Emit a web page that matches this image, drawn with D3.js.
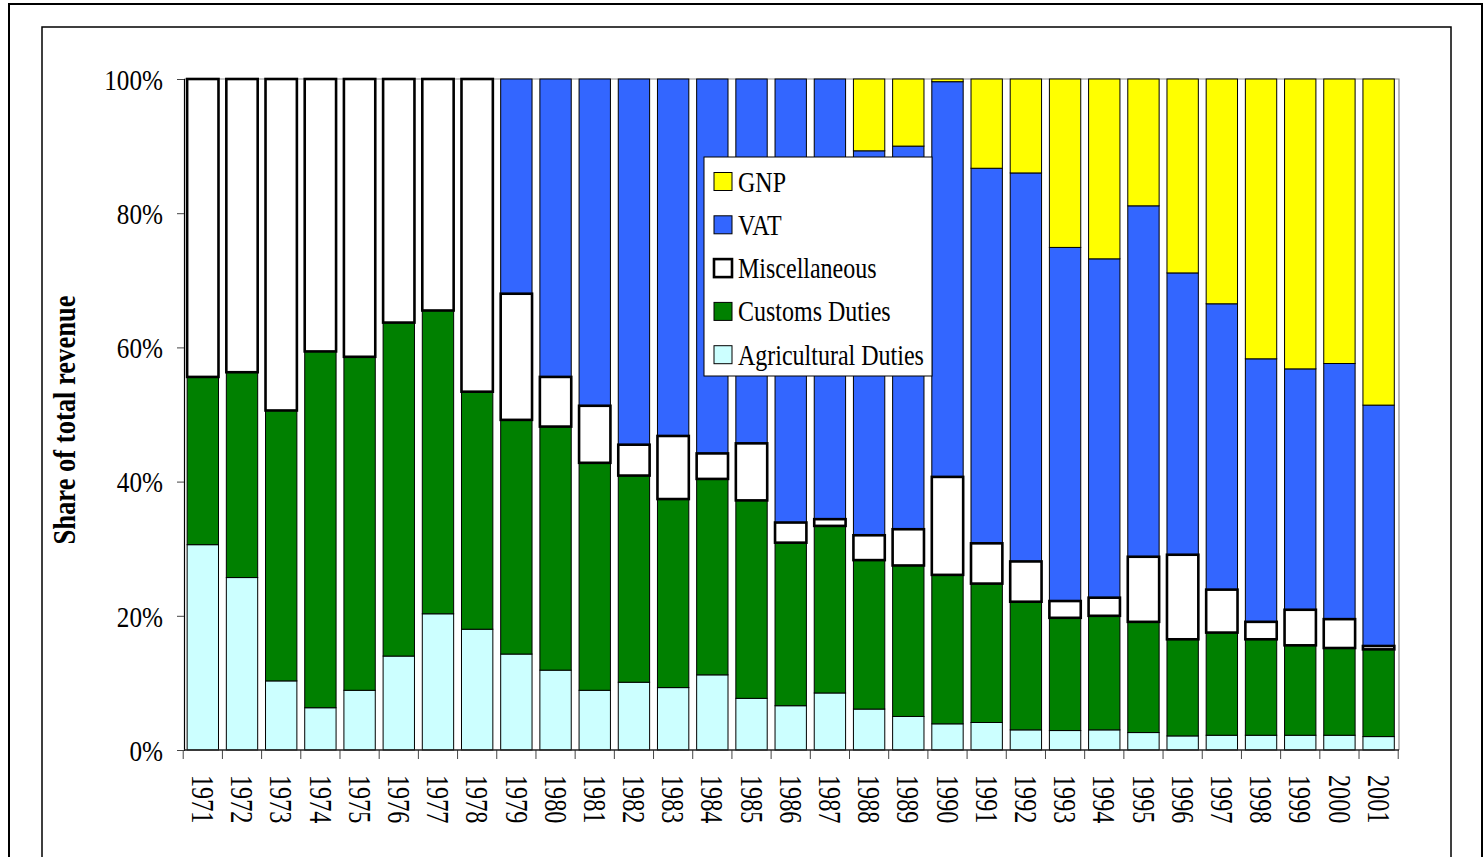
<!DOCTYPE html>
<html>
<head>
<meta charset="utf-8">
<script src="https://cdn.jsdelivr.net/npm/d3@7"></script>
<style>
  body { margin: 0; background: #fff; }
  svg text { font-family: "Liberation Serif", "Times New Roman", serif !important; fill: #000; }
</style>
</head>
<body>
<svg id="chart" width="1483" height="857"></svg>
<script>
// EU own resources: share of total revenue by source, 1971-2001 (%)
const years = ["1971","1972","1973","1974","1975","1976","1977","1978","1979","1980",
  "1981","1982","1983","1984","1985","1986","1987","1988","1989","1990",
  "1991","1992","1993","1994","1995","1996","1997","1998","1999","2000","2001"];

const agricultural = [30.6,25.7,10.3,6.3,8.9,14.0,20.3,18.0,14.3,11.9,
  8.9,10.1,9.3,11.2,7.7,6.6,8.5,6.1,5.0,3.9,
  4.1,3.0,2.9,3.0,2.6,2.1,2.2,2.2,2.2,2.2,2.0];

const customs = [25.0,30.6,40.3,53.1,49.7,49.7,45.2,35.4,34.9,36.3,
  33.9,30.8,28.1,29.2,29.5,24.3,24.9,22.2,22.5,22.2,
  20.7,19.1,16.8,17.0,16.5,14.4,15.3,14.3,13.4,13.0,13.0];

const miscellaneous = [44.4,43.7,49.4,40.6,41.4,36.3,34.5,46.6,18.8,7.4,
  8.5,4.6,9.4,3.8,8.5,3.0,1.0,3.7,5.4,14.6,
  6.0,6.0,2.5,2.7,9.7,12.6,6.4,2.6,5.3,4.3,0.5];

const vat = [0,0,0,0,0,0,0,0,32.0,44.4,
  48.7,54.5,53.2,55.8,54.3,66.1,65.6,57.3,57.1,58.9,
  55.9,57.9,52.7,50.5,52.3,42.0,42.6,39.2,35.9,38.1,35.9];

const gnp = [0,0,0,0,0,0,0,0,0,0,
  0,0,0,0,0,0,0,10.7,10.0,0.4,
  13.3,14.0,25.1,26.8,18.9,28.9,33.5,41.7,43.2,42.4,48.6];

const yTickValues = [0, 20, 40, 60, 80, 100];
const seriesKeys = ["agricultural", "customs", "miscellaneous", "vat", "gnp"];
const seriesLabels = ["Agricultural Duties", "Customs Duties", "Miscellaneous", "VAT", "GNP"];
const seriesFill = ["#CCFFFF", "#008000", "#FFFFFF", "#3366FF", "#FFFF00"];

const rows = years.map((y, i) => ({
  year: y,
  agricultural: agricultural[i],
  customs: customs[i],
  miscellaneous: miscellaneous[i],
  vat: vat[i],
  gnp: gnp[i]
}));

const svg = d3.select("#chart");

// frames
svg.append("rect").attr("x", 9).attr("y", 4).attr("width", 1473).attr("height", 900)
  .attr("fill", "none").attr("stroke", "#000").attr("stroke-width", 2);
svg.append("rect").attr("x", 42).attr("y", 27).attr("width", 1409).attr("height", 900)
  .attr("fill", "none").attr("stroke", "#000").attr("stroke-width", 1.5);

const plot = { left: 184, right: 1399, top: 79, bottom: 750 };

const x = d3.scaleBand().domain(years).range([plot.left, plot.right])
  .paddingInner(0.2).paddingOuter(0.1).align(0.4);
const y = d3.scaleLinear().domain([0, 100]).range([plot.bottom, plot.top]);

// plot-area outline (top and right)
svg.append("path")
  .attr("d", `M${plot.left},${plot.top}H${plot.right}V${plot.bottom}`)
  .attr("fill", "none").attr("stroke", "#8c8c8c").attr("stroke-width", 1.2);

// stacked bars
const stacked = d3.stack().keys(seriesKeys)(rows);
const drawOrder = [0, 1, 3, 4, 2]; // miscellaneous drawn last so its heavy outline sits on top
drawOrder.forEach(si => {
  const layer = stacked[si];
  const isMisc = seriesKeys[si] === "miscellaneous";
  svg.append("g")
    .selectAll("rect")
    .data(layer.filter(d => d[1] - d[0] > 0))
    .join("rect")
    .attr("x", d => x(d.data.year))
    .attr("width", x.bandwidth())
    .attr("y", d => y(d[1]))
    .attr("height", d => y(d[0]) - y(d[1]))
    .attr("fill", seriesFill[si])
    .attr("stroke", "#000")
    .attr("stroke-width", isMisc ? 2.6 : 1);
});

// y axis
const yAxis = svg.append("g")
  .attr("transform", `translate(${plot.left},0)`)
  .call(d3.axisLeft(y).tickValues(yTickValues).tickSize(7).tickFormat(d => d + "%"));
yAxis.attr("font-family", null);
yAxis.select(".domain").attr("stroke", "#000").attr("stroke-width", 1.2);
yAxis.selectAll(".tick line").attr("stroke", "#444");
yAxis.selectAll(".tick text")
  .attr("x", 0).attr("dy", "0.34em")
  .attr("transform", "translate(-21,0) scale(0.84,1)")
  .style("font-size", "30px").attr("fill", "#000");

// x axis: labels centred on bars, ticks on category boundaries
const xAxis = svg.append("g")
  .attr("transform", `translate(0,${plot.bottom})`)
  .call(d3.axisBottom(x).tickSize(0));
xAxis.attr("font-family", null);
xAxis.select(".domain").remove();
xAxis.selectAll(".tick text")
  .attr("y", 0).attr("x", 0).attr("dy", "0.35em")
  .attr("text-anchor", "start")
  .attr("transform", "translate(0,25) rotate(90) scale(0.78,1)")
  .style("font-size", "31px").attr("fill", "#000");
xAxis.selectAll(".tick").attr("transform", d => `translate(${x(d) + x.bandwidth() / 2},0)`);

const step = x.step();
const boundary0 = x(years[0]) - (x(years[1]) - x(years[0]) - x.bandwidth()) / 2;
const bounds = d3.range(years.length + 1).map(i => boundary0 + i * step);
svg.append("g").selectAll("line").data(bounds).join("line")
  .attr("x1", d => d).attr("x2", d => d)
  .attr("y1", plot.bottom).attr("y2", plot.bottom + 9)
  .attr("stroke", "#444").attr("stroke-width", 1);
svg.append("line")
  .attr("x1", plot.left).attr("x2", plot.right)
  .attr("y1", plot.bottom).attr("y2", plot.bottom)
  .attr("stroke", "#222").attr("stroke-width", 1.4);

// y axis title
svg.append("text")
  .attr("transform", "translate(75,420) rotate(-90) scale(0.83,1)")
  .attr("text-anchor", "middle")
  .style("font-size", "32px").style("font-weight", "bold")
  .text("Share of total revenue");

// legend
const legend = svg.append("g").attr("transform", "translate(704,157)");
legend.append("rect").attr("width", 228).attr("height", 219)
  .attr("fill", "#fff").attr("stroke", "#000").attr("stroke-width", 1);
const legendOrder = [4, 3, 2, 1, 0];
legendOrder.forEach((si, r) => {
  const cy = 24.5 + r * 43.3;
  const isMisc = seriesKeys[si] === "miscellaneous";
  legend.append("rect")
    .attr("x", 10).attr("y", cy - 9).attr("width", 18).attr("height", 18)
    .attr("fill", seriesFill[si]).attr("stroke", "#000")
    .attr("stroke-width", isMisc ? 2.6 : 1);
  legend.append("text")
    .attr("transform", `translate(34,${cy + 10}) scale(0.8,1)`)
    .style("font-size", "30px")
    .text(seriesLabels[si]);
});
</script>
</body>
</html>
